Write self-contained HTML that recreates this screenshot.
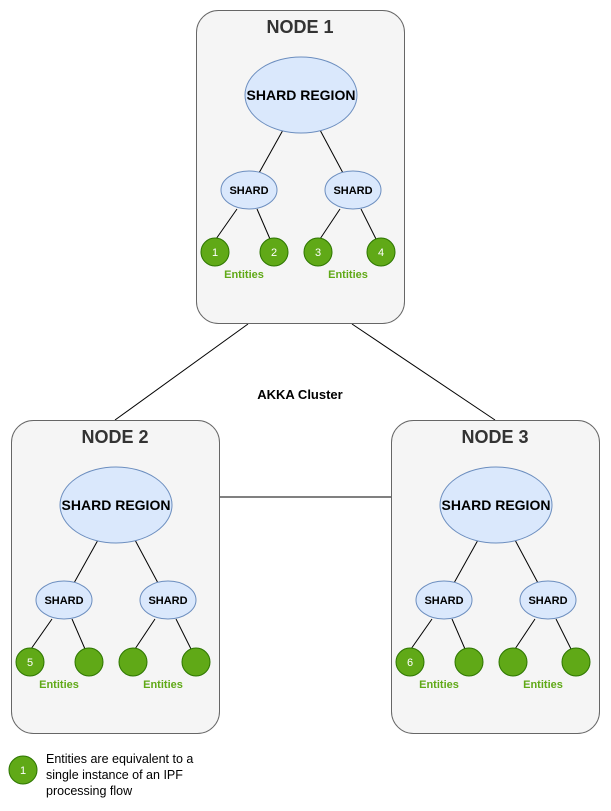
<!DOCTYPE html>
<html><head><style>body{margin:0;background:#fff}svg{display:block}</style></head><body>
<svg width="611" height="811" viewBox="0 0 611 811" xmlns="http://www.w3.org/2000/svg" font-family="Liberation Sans, Arial, sans-serif">
<defs>
<g id="node">
<rect x="196.5" y="10.5" width="208" height="313" rx="22" fill="#f5f5f5" stroke="#666"/>
<g stroke="#000" stroke-width="1">
<line x1="283" y1="130" x2="259" y2="173"/>
<line x1="320" y1="130" x2="343" y2="173"/>
<line x1="237" y1="209" x2="216" y2="239"/>
<line x1="257" y1="209" x2="270" y2="239"/>
<line x1="340" y1="209" x2="320" y2="239"/>
<line x1="361" y1="209" x2="376" y2="239"/>
</g>
<ellipse cx="301" cy="95" rx="56" ry="38" fill="#dae8fc" stroke="#6c8ebf"/>
<ellipse cx="249" cy="190" rx="28" ry="19" fill="#dae8fc" stroke="#6c8ebf"/>
<ellipse cx="353" cy="190" rx="28" ry="19" fill="#dae8fc" stroke="#6c8ebf"/>
<text x="301" y="100" text-anchor="middle" font-size="14" font-weight="bold">SHARD REGION</text>
<text x="249" y="194" text-anchor="middle" font-size="11" font-weight="bold">SHARD</text>
<text x="353" y="194" text-anchor="middle" font-size="11" font-weight="bold">SHARD</text>
<g fill="#60a917" stroke="#2d7600">
<circle cx="215" cy="252" r="14"/><circle cx="274" cy="252" r="14"/>
<circle cx="318" cy="252" r="14"/><circle cx="381" cy="252" r="14"/>
</g>
<text x="244" y="278" text-anchor="middle" font-size="11" font-weight="bold" fill="#60a917">Entities</text>
<text x="348" y="278" text-anchor="middle" font-size="11" font-weight="bold" fill="#60a917">Entities</text>
</g>
</defs>
<g stroke="#000">
<line x1="248" y1="324" x2="115" y2="420"/>
<line x1="352" y1="324" x2="495" y2="420"/>
<line x1="220" y1="497" x2="391" y2="497"/>
</g>
<use href="#node"/>
<use href="#node" transform="translate(-185,410)"/>
<use href="#node" transform="translate(195,410)"/>
<g font-size="18" font-weight="bold" fill="#333" text-anchor="middle">
<text x="300" y="33">NODE 1</text>
<text x="115" y="443">NODE 2</text>
<text x="495" y="443">NODE 3</text>
</g>
<g fill="#fff" font-size="11" text-anchor="middle">
<text x="215" y="256">1</text><text x="274" y="256">2</text>
<text x="318" y="256">3</text><text x="381" y="256">4</text>
<text x="30" y="666">5</text><text x="410" y="666">6</text>
</g>
<text x="300" y="399" text-anchor="middle" font-size="13" font-weight="bold">AKKA Cluster</text>
<circle cx="23" cy="770" r="14" fill="#60a917" stroke="#2d7600"/>
<text x="23" y="774" text-anchor="middle" font-size="11" fill="#fff">1</text>
<g font-size="12.5" fill="#000">
<text x="46" y="763">Entities are equivalent to a</text>
<text x="46" y="779">single instance of an IPF</text>
<text x="46" y="795">processing flow</text>
</g>
</svg>
</body></html>
